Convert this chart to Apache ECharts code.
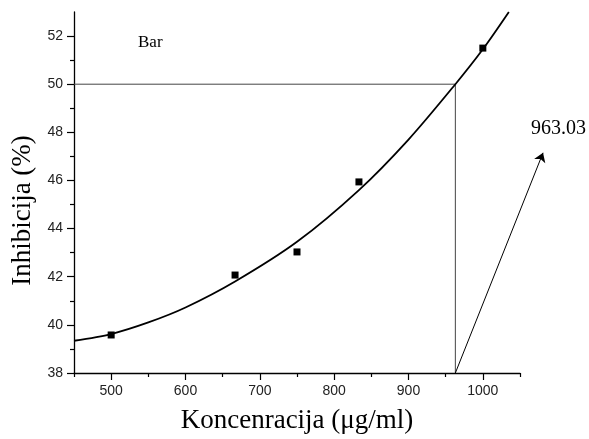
<!DOCTYPE html>
<html>
<head>
<meta charset="utf-8">
<script src="https://cdn.jsdelivr.net/npm/echarts@6/dist/echarts.min.js"></script>
<style>
    html, body { margin: 0; padding: 0; background: #fff; }
    #chart { width: 589px; height: 439px; }
</style>
</head>
<body>
<div id="chart"></div>
<script>
// measured points
let concX = [500, 666.67, 750, 833.33, 1000];
let inhibY = [39.58, 42.07, 43.03, 45.94, 51.5];

// fitted curve
let fitX = [450, 500, 550, 600, 666.67, 750, 833.33, 900, 963.03, 1000, 1035];
let fitY = [39.34, 39.62, 40.1, 40.72, 41.8, 43.45, 45.6, 47.7, 50, 51.45, 53];

// guide lines for 50 %
let guideX = [450, 963.03, 963.03];
let guideY = [50, 50, 38];

// arrow from the x axis to the value label
let arrowFrom = [963.03, 38];
let arrowTo = [1081, 47.15];

let xMajor = [500, 600, 700, 800, 900, 1000];
let xMinor = [450, 550, 650, 750, 850, 950, 1050];
let yMajor = [38, 40, 42, 44, 46, 48, 50, 52];
let yMinor = [39, 41, 43, 45, 47, 49, 51];

let chart = echarts.init(document.getElementById('chart'));

let zip = (a, b) => a.map((v, i) => [v, b[i]]);

let serif = 'Liberation Serif';
let sans = 'Liberation Sans';

let option = {
    animation: false,
    backgroundColor: '#fff',
    grid: {
        left: 74,
        right: 69,
        top: 12,
        bottom: 66
    },
    xAxis: [
        {
            type: 'value',
            min: 450,
            max: 1050,
            name: 'Koncenracija (μg/ml)',
            nameLocation: 'middle',
            nameGap: 34,
            nameTextStyle: {fontFamily: serif, fontSize: 27, color: '#000'},
            axisLine: {show: true, lineStyle: {color: '#000', width: 1.3}},
            axisTick: {show: true, customValues: xMajor, length: 7, lineStyle: {color: '#000', width: 1.2}},
            axisLabel: {
                customValues: xMajor, margin: 11, fontFamily: sans, fontSize: 14, color: '#222',
                formatter: v => String(v)
            },
            splitLine: {show: false}
        },
        {
            type: 'value',
            min: 450,
            max: 1050,
            position: 'bottom',
            axisLine: {show: false},
            axisTick: {show: true, customValues: xMinor, length: 4, lineStyle: {color: '#000', width: 1.2}},
            axisLabel: {show: false},
            splitLine: {show: false}
        }
    ],
    yAxis: [
        {
            type: 'value',
            min: 38,
            max: 53,
            name: 'Inhibicija (%)',
            nameLocation: 'middle',
            nameGap: 38,
            nameTextStyle: {fontFamily: serif, fontSize: 27, color: '#000', padding: [0, 36, 0, 0]},
            axisLine: {show: true, lineStyle: {color: '#000', width: 1.3}},
            axisTick: {show: true, customValues: yMajor, length: 7, lineStyle: {color: '#000', width: 1.2}},
            axisLabel: {customValues: yMajor, margin: 11, fontFamily: sans, fontSize: 14, color: '#222'},
            splitLine: {show: false}
        },
        {
            type: 'value',
            min: 38,
            max: 53,
            position: 'left',
            axisLine: {show: false},
            axisTick: {show: true, customValues: yMinor, length: 4, lineStyle: {color: '#000', width: 1.2}},
            axisLabel: {show: false},
            splitLine: {show: false}
        }
    ],
    graphic: [
        {
            type: 'text',
            left: 138,
            top: 34,
            style: {text: 'Bar', fontFamily: serif, fontSize: 17, fill: '#000'}
        },
        {
            type: 'text',
            left: 531,
            top: 119,
            style: {text: '963.03', fontFamily: serif, fontSize: 20, fill: '#000'}
        }
    ],
    series: [
        {
            name: 'guide',
            type: 'line',
            data: zip(guideX, guideY),
            showSymbol: false,
            lineStyle: {color: '#444', width: 1},
            z: 1
        },
        {
            name: 'fit',
            type: 'line',
            data: zip(fitX, fitY),
            smooth: 0.3,
            showSymbol: false,
            lineStyle: {color: '#000', width: 1.8},
            z: 2
        },
        {
            name: 'arrow',
            type: 'lines',
            coordinateSystem: 'cartesian2d',
            clip: false,
            symbol: ['none', 'arrow'],
            symbolSize: [6, 9],
            lineStyle: {color: '#000', width: 1, opacity: 1},
            data: [{coords: [arrowFrom, arrowTo]}],
            z: 2
        },
        {
            name: 'Bar',
            type: 'scatter',
            data: zip(concX, inhibY),
            symbol: 'rect',
            symbolSize: 7,
            itemStyle: {color: '#000', opacity: 1},
            z: 3
        }
    ]
};

chart.setOption(option);

setTimeout(() => {
    window.onresize = function () {
        chart.resize();
    }
}, 200);
</script>
</body>
</html>
